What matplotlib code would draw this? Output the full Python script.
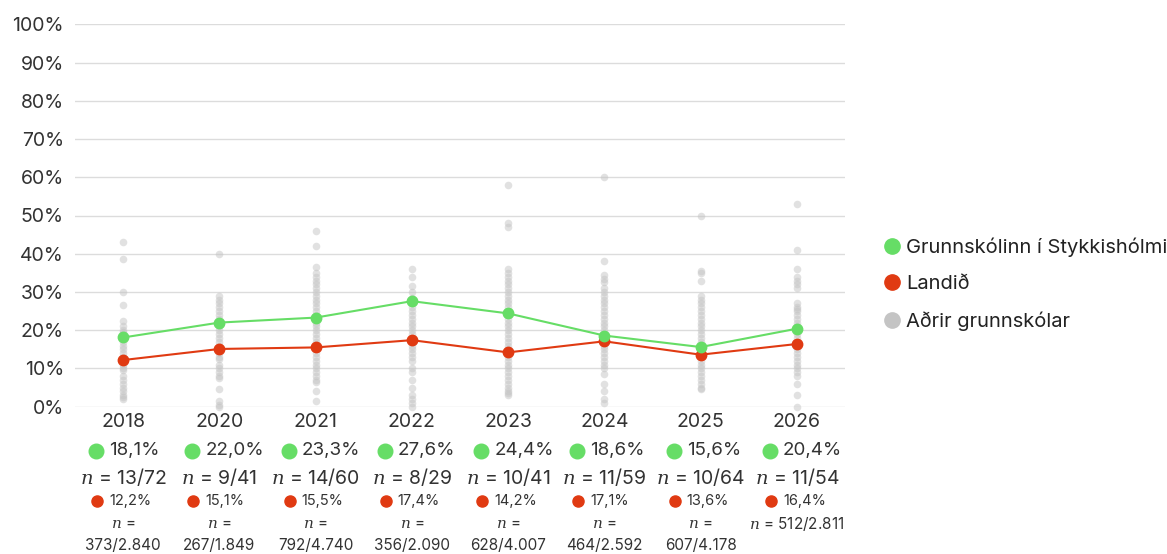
import matplotlib
matplotlib.use("Agg")
import matplotlib.pyplot as plt
from matplotlib.lines import Line2D
from matplotlib.transforms import blended_transform_factory, offset_copy

plt.rcParams['font.family'] = ['Inter', 'DejaVu Sans']
# italic n in the sample-size labels
plt.rcParams['mathtext.fontset'] = 'custom'
plt.rcParams['mathtext.it'] = 'DejaVu Serif:italic'
plt.rcParams['mathtext.rm'] = 'Inter'

# Years on the x axis (categorical, 2019 has no survey)
years = ['2018', '2020', '2021', '2022', '2023', '2024', '2025', '2026']

# School and national share (%)
school_pct = [18.1, 22.0, 23.3, 27.6, 24.4, 18.6, 15.6, 20.4]
national_pct = [12.2, 15.1, 15.5, 17.4, 14.2, 17.1, 13.6, 16.4]

school_n = ['13/72', '9/41', '14/60', '8/29', '10/41', '11/59', '10/64', '11/54']
national_n = ['373/2.840', '267/1.849', '792/4.740', '356/2.090',
              '628/4.007', '464/2.592', '607/4.178', '512/2.811']
national_n_wrap = [True, True, True, True, True, True, True, False]

# Other primary schools, one list per year (%)
other_schools = [
    [43, 38.5, 30, 26.5, 22.5, 21, 20, 19.5, 19, 18, 17, 16, 15, 14, 13, 12,
     11, 10, 9.5, 8, 7, 6, 5, 4, 3, 2.5, 2],
    [40, 29, 28, 27, 26, 25, 24, 23, 22, 21, 20, 19, 18, 17, 16, 15, 14, 13,
     12.5, 11, 10, 9, 8, 7.5, 4.5, 1.5, 0.5, 0],
    [46, 42, 36.5, 35, 34, 33, 32, 31, 30, 29, 28, 27, 26, 25, 24, 23, 22, 21,
     20, 19, 18, 17, 16, 15, 14, 13, 12, 11, 10, 9, 8, 7, 6.5, 4, 1.5],
    [36, 34, 31.5, 30, 28.5, 27, 26, 25, 24, 23, 22, 21, 20, 19, 18, 17, 16,
     15, 14, 13, 12, 10, 9, 7, 5, 3, 2, 1, 0],
    [58, 48, 47, 36, 35, 34, 33, 32, 31, 30, 29, 28, 27, 26, 25, 24, 23, 22,
     21, 20, 19, 18, 17, 16, 15, 14, 13, 12, 11, 10, 9, 8, 7, 6, 5, 4, 3.5, 3],
    [60, 38, 34.5, 33.5, 32.5, 31, 30, 29, 28, 27, 26, 25, 24, 23, 22, 21, 20,
     19, 18, 17, 16, 15, 14, 13, 12, 11, 10, 8.5, 6, 4, 2, 1],
    [50, 35.5, 35, 33, 29, 28, 27, 26, 25, 24, 23, 22, 21, 20, 19, 18, 17, 16,
     15, 14, 13, 12, 11, 10, 9, 8, 7, 6, 5, 4.5],
    [53, 41, 36, 34, 33, 32, 31, 27, 26, 25.5, 25, 24, 23, 22, 21, 20, 19, 18,
     17, 16, 15, 14, 13, 12, 11, 10, 9, 8, 6, 3, 0],
]

legend_labels = ['Grunnskólinn í Stykkishólmi', 'Landið', 'Aðrir grunnskólar']

GREEN = '#66dd66'
RED = '#e03a12'
GREY = '#c4c4c4'
TEXT = '#333333'

W, H = 1167, 554
fig = plt.figure(figsize=(W / 100, H / 100), dpi=100)
fig.patch.set_facecolor('white')
ax = fig.add_axes([75 / W, 1 - 406.7 / H, 770 / W, (406.7 - 24.3) / H])

x = list(range(len(years)))

# grey dots for every other school
for i, vals in enumerate(other_schools):
    ax.scatter([i] * len(vals), vals, s=30, color=GREY, alpha=0.5,
               linewidths=0, zorder=2, clip_on=False)

ax.plot(x, national_pct, '-o', color=RED, lw=1.5, ms=7.5, zorder=3, clip_on=False)
ax.plot(x, school_pct, '-o', color=GREEN, lw=1.5, ms=7.5, zorder=4, clip_on=False)

ax.set_xlim(-0.5, len(years) - 0.5)
ax.set_ylim(0, 100)
ax.set_yticks(range(0, 101, 10))
ax.set_yticklabels([f'{v}%' for v in range(0, 101, 10)], fontsize=14, color=TEXT)
ax.set_xticks([])
ax.tick_params(axis='y', length=0, pad=8)
ax.grid(axis='y', color='#dcdcdc', lw=1.0)
ax.set_axisbelow(True)
for s in ax.spines.values():
    s.set_visible(False)

# labels under each year
tr = blended_transform_factory(ax.transData, fig.transFigure)


def fy(px):
    return 1 - px / H


for i in x:
    ax.text(i, fy(422), years[i], transform=tr, ha='center', va='center',
            fontsize=14, color=TEXT)

    dot_tr = offset_copy(tr, fig=fig, x=-27, y=0, units='dots')
    ax.plot([i], [fy(450.5)], 'o', color=GREEN, ms=10.5, transform=dot_tr,
            clip_on=False)
    txt_tr = offset_copy(tr, fig=fig, x=-14, y=0, units='dots')
    ax.text(i, fy(450.5), f'{school_pct[i]:.1f}%'.replace('.', ','),
            transform=txt_tr, ha='left', va='center', fontsize=13.5, color=TEXT)

    ax.text(i, fy(476.5), '$n$ = ' + school_n[i], transform=tr, ha='center',
            va='center', fontsize=14, color=TEXT)

    dot_tr = offset_copy(tr, fig=fig, x=-26, y=0, units='dots')
    ax.plot([i], [fy(501)], 'o', color=RED, ms=8, transform=dot_tr,
            clip_on=False)
    txt_tr = offset_copy(tr, fig=fig, x=-14, y=0, units='dots')
    ax.text(i, fy(501), f'{national_pct[i]:.1f}%'.replace('.', ','),
            transform=txt_tr, ha='left', va='center', fontsize=10.5, color=TEXT)

    if national_n_wrap[i]:
        ax.text(i, fy(524), '$n$ =', transform=tr, ha='center', va='center',
                fontsize=11, color=TEXT)
        ax.text(i, fy(545), national_n[i], transform=tr, ha='center',
                va='center', fontsize=11, color=TEXT)
    else:
        ax.text(i, fy(524), '$n$ = ' + national_n[i], transform=tr,
                ha='center', va='center', fontsize=11, color=TEXT)

handles = [Line2D([], [], ls='', marker='o', ms=11, color=c)
           for c in (GREEN, RED, GREY)]
fig.legend(handles, legend_labels, loc='center left',
           bbox_to_anchor=(862 / W, fy(284)), frameon=False, fontsize=14.5,
           handletextpad=0.1, handlelength=1.2, labelspacing=0.9,
           labelcolor='#222222')

fig.savefig('out.png', dpi=100)
